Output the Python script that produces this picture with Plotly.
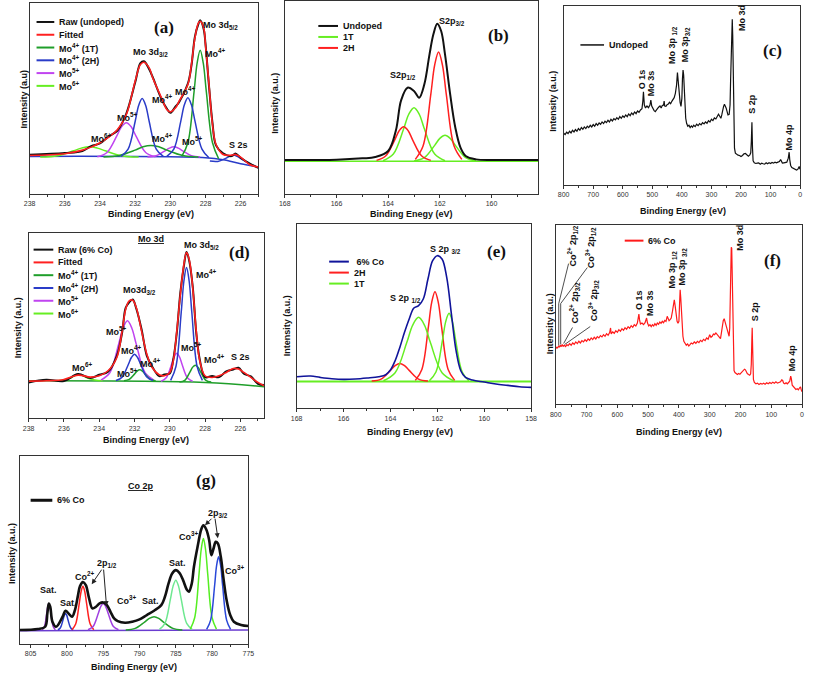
import plotly.graph_objects as go

W, H = 813, 674
SANS = "Liberation Sans, Arial, sans-serif"
SERIF = "Liberation Serif, Times New Roman, serif"

# ---------------- (a) undoped Mo 3d ----------------
A_BE = [238, 236, 235, 234.5, 234, 233.5, 233, 232.5, 232, 231.7, 231.5, 231.2, 231, 230.5, 230.2, 230, 229.7,
        229.5, 229, 228.8, 228.6, 228.4, 228.3, 228.1, 228, 227.8, 227.6, 227.4, 227, 226.5, 226.3, 226, 225.5, 225]
A_FIT = [115, 120, 131, 140, 153, 170, 193, 238, 338, 388, 395, 378, 348, 288, 253, 246, 258,
         278, 328, 388, 468, 513, 518, 498, 448, 328, 208, 148, 118, 116, 118, 110, 88, 80]
A_RAW = [117, 122, 128, 143, 151, 172, 190, 241, 334, 392, 398, 374, 350, 284, 256, 243, 262,
         275, 331, 384, 472, 510, 521, 494, 451, 324, 212, 145, 121, 113, 121, 108, 91, 78]
A_BASE_BE = [238, 228, 227, 226, 225]
A_BASE = [112, 108, 102, 90, 80]
A_MO6_BE = [237.4, 236.4, 235.5, 235.05, 234.6, 234.15, 233.7, 232.8, 231.8]
A_MO6 = [110, 114, 129, 137, 141, 137, 129, 114, 110]
A_MO5A_BE = [234.15, 233.6, 233.05, 232.775, 232.5, 232.225, 231.95, 231.4, 230.85]
A_MO5A = [111, 124, 173, 201, 213, 201, 173, 124, 111]
A_MO5B_BE = [231.3, 230.8, 230.3, 230.05, 229.8, 229.55, 229.3, 228.8, 228.3]
A_MO5B = [110, 114, 129, 137, 141, 137, 129, 114, 110]
A_2HA_BE = [232.8, 232.4, 232.0, 231.8, 231.6, 231.4, 231.2, 230.8, 230.4]
A_2HA = [112, 134, 217, 265, 286, 265, 217, 134, 112]
A_2HB_BE = [230.2, 229.8, 229.4, 229.2, 229.0, 228.8, 228.6, 228.2, 227.8]
A_2HB = [112, 134, 219, 267, 288, 267, 219, 134, 108]
A_1TA_BE = [233.8, 232.9, 232.0, 231.55, 231.1, 230.65, 230.2, 229.3, 228.4]
A_1TA = [110, 115, 131, 141, 145, 141, 131, 115, 110]
A_1TB_BE = [229.35, 229.0, 228.65, 228.475, 228.3, 228.125, 227.95, 227.6, 227.25]
A_1TB = [112, 153, 306, 392, 431, 392, 306, 153, 105]
A_S2S_BE = [227.75, 227.3, 226.85, 226.6, 226.4, 226.2, 225.95, 225.5, 225.05]
A_S2S = [98, 97, 106, 113, 116, 112, 104, 90, 80]

# ---------------- (b) undoped S 2p ----------------
B_BE = [168, 166, 165, 164.5, 164.0, 163.7, 163.5, 163.25, 163.0, 162.8, 162.6, 162.4, 162.25, 162.1,
        161.95, 161.8, 161.6, 161.4, 161.2, 161.0, 160.6, 160.0, 159.3, 158.7, 158.2]
B_UNDOPED = [101, 102, 106, 110, 128, 190, 280, 318, 308, 288, 328, 418, 478, 510,
             488, 418, 298, 198, 138, 113, 103, 101, 101, 101, 101]
B_BASE_BE = [168, 158.2]
B_BASE = [97, 97]
B_1TA_BE = [164.2, 163.8, 163.4, 163.2, 163.0, 162.8, 162.6, 162.2, 161.8]
B_1TA = [99, 119, 195, 239, 258, 239, 195, 119, 99]
B_1TB_BE = [163.0, 162.6, 162.2, 162.0, 161.8, 161.6, 161.4, 161.0, 160.6]
B_1TB = [98, 108, 145, 166, 175, 166, 145, 108, 98]
B_2HA_BE = [162.95, 162.65, 162.35, 162.2, 162.05, 161.9, 161.75, 161.45, 161.15]
B_2HA = [103, 143, 298, 386, 425, 386, 298, 143, 103]
B_2HB_BE = [164.45, 164.1, 163.75, 163.575, 163.4, 163.225, 163.05, 162.7, 162.35]
B_2HB = [100, 113, 161, 189, 201, 189, 161, 113, 100]

# ---------------- (c) undoped survey ----------------
C_BE = [800, 795, 790, 785, 780, 775, 770, 765, 760, 755,
        750, 745, 740, 735, 730, 725, 720, 715, 710, 705,
        700, 695, 690, 685, 680, 675, 670, 665, 660, 655,
        650, 645, 640, 635, 630, 625, 620, 615, 610, 605,
        600, 595, 590, 585, 580, 575, 570, 565, 560, 555,
        550, 545, 540, 535, 532, 530, 527, 523, 518, 513,
        508, 505, 502, 498, 494, 490, 486, 482, 478, 474,
        470, 466, 462, 460, 458, 454, 450, 446, 442, 438,
        434, 430, 426, 422, 418, 415, 412, 409, 406, 403,
        400, 398, 396, 394, 392, 390, 387, 384, 380, 376,
        372, 368, 364, 360, 355, 350, 345, 340, 335, 330,
        325, 320, 315, 310, 305, 300, 295, 290, 285, 280,
        276, 272, 268, 265, 262, 259, 256, 253, 250, 247,
        244, 240, 237, 235, 233, 231, 229.5, 228, 226, 224,
        222, 219, 215, 210, 205, 200, 195, 190, 185, 180,
        175, 170, 167, 165, 163, 161, 159, 155, 150, 145,
        140, 135, 130, 125, 120, 115, 110, 105, 100, 95,
        90, 85, 80, 75, 70, 66, 63, 60, 55, 50,
        45, 40, 37, 35, 32, 28, 24, 20, 16, 12,
        8, 5, 3, 1, 0]
C_UNDOPED = [155, 151, 158, 154, 161, 156, 164, 159, 166, 161,
             169, 164, 172, 167, 174, 169, 176, 172, 179, 174,
             181, 176, 184, 179, 186, 182, 189, 184, 191, 187,
             194, 189, 197, 192, 199, 195, 202, 197, 205, 200,
             207, 203, 210, 205, 213, 208, 216, 211, 219, 214,
             222, 218, 225, 229, 252, 280, 240, 231, 237, 232,
             240, 255, 237, 228, 223, 220, 227, 230, 234, 237,
             231, 239, 240, 252, 237, 236, 241, 243, 248, 244,
             251, 255, 262, 275, 300, 338, 310, 262, 248, 236,
             260, 320, 345, 330, 280, 230, 200, 185, 176, 179,
             172, 177, 173, 179, 175, 182, 178, 184, 180, 187,
             183, 189, 185, 193, 189, 197, 193, 201, 198, 206,
             212, 206, 200, 210, 225, 235, 242, 238, 230, 220,
             210, 212, 240, 320, 420, 470, 498, 450, 330, 190,
             110, 95, 92, 89, 88, 85, 88, 93, 94, 89,
             86, 90, 96, 130, 188, 110, 72, 66, 64, 65,
             66, 62, 65, 63, 62, 66, 63, 66, 64, 67,
             65, 68, 66, 68, 70, 76, 70, 65, 66, 67,
             68, 80, 98, 75, 58, 52, 50, 48, 45, 44,
             46, 50, 55, 48, 47]

# ---------------- (d) 6% Co Mo 3d ----------------
D_BE = [238, 237, 236, 235.2, 234.5, 234, 233.5, 233, 232.7, 232.5,
        232.3, 232.1, 231.9, 231.6, 231.3, 231, 230.6, 230.3, 230, 229.8,
        229.6, 229.4, 229.2, 229.05, 228.9, 228.7, 228.5, 228.3, 228, 227.6,
        227.2, 226.8, 226.4, 226.1, 225.8, 225.4, 225, 224.65]
D_FIT = [112, 113, 117, 130, 124, 128, 143, 183, 263, 328,
         353, 355, 333, 263, 193, 153, 131, 128, 138, 173,
         263, 373, 463, 498, 478, 393, 263, 173, 128, 123,
         128, 138, 150, 148, 138, 123, 108, 98]
D_RAW = [108, 116, 112, 133, 121, 131, 140, 188, 258, 332,
         349, 357, 330, 268, 188, 156, 127, 132, 135, 177,
         258, 378, 458, 500, 474, 397, 258, 177, 124, 127,
         124, 141, 147, 152, 134, 126, 104, 100]
D_BASE_BE = [238, 228, 224.65]
D_BASE = [113, 108, 95]
D_MO6_BE = [236.5, 236.05, 235.6, 235.375, 235.15, 234.925, 234.7, 234.25, 233.8]
D_MO6 = [113, 115, 122, 129, 131, 129, 122, 115, 113]
D_MO5A_BE = [233.9, 233.4, 232.9, 232.65, 232.4, 232.15, 231.9, 231.4, 230.9]
D_MO5A = [115, 137, 223, 271, 293, 271, 223, 137, 115]
D_MO5B_BE = [230.5, 230.2, 229.9, 229.75, 229.6, 229.45, 229.3, 229.0, 228.7]
D_MO5B = [111, 122, 162, 185, 196, 185, 162, 122, 111]
D_2HA_BE = [233.05, 232.7, 232.35, 232.175, 232.0, 231.825, 231.65, 231.3, 230.95]
D_2HA = [114, 124, 162, 183, 193, 183, 162, 124, 114]
D_2HB_BE = [229.95, 229.65, 229.35, 229.2, 229.05, 228.9, 228.75, 228.45, 228.15]
D_2HB = [114, 156, 319, 412, 453, 412, 319, 156, 114]
D_1TA_BE = [232.6, 232.3, 232.0, 231.85, 231.7, 231.55, 231.4, 231.1, 230.8]
D_1TA = [113, 117, 133, 142, 146, 142, 133, 117, 113]
D_1TB_BE = [229.45, 229.15, 228.85, 228.7, 228.55, 228.4, 228.25, 227.95, 227.65]
D_1TB = [109, 114, 140, 154, 160, 154, 140, 114, 109]

# ---------------- (e) 6% Co S 2p ----------------
E_BE = [168, 167.4, 167, 166.5, 166, 165.5, 165, 164.5, 164.2, 164.0,
        163.8, 163.6, 163.4, 163.2, 163.0, 162.8, 162.6, 162.4, 162.2, 162.0,
        161.8, 161.6, 161.4, 161.2, 161.0, 160.8, 160.5, 160.0, 159.5, 159.0,
        158.5, 158]
E_CO = [95, 97, 93, 89, 87, 88, 91, 95, 101, 115,
        143, 183, 228, 268, 301, 308, 328, 388, 443, 458,
        448, 393, 283, 173, 113, 93, 85, 79, 73, 69,
        65, 63]
E_BASE_BE = [168, 158]
E_BASE = [81, 81]
E_2HA_BE = [162.94, 162.66, 162.38, 162.24, 162.1, 161.96, 161.82, 161.54, 161.26]
E_2HA = [84, 117, 245, 318, 350, 318, 245, 117, 84]
E_2HB_BE = [164.8, 164.4, 164.0, 163.8, 163.6, 163.4, 163.2, 162.8, 162.4]
E_2HB = [82, 88, 114, 128, 135, 128, 114, 88, 82]
E_1TA_BE = [164.3, 163.8, 163.3, 163.05, 162.8, 162.55, 162.3, 161.8, 161.3]
E_1TA = [83, 107, 198, 250, 273, 250, 198, 107, 83]
E_1TB_BE = [162.34, 162.06, 161.78, 161.64, 161.5, 161.36, 161.22, 160.94, 160.66]
E_1TB = [83, 109, 205, 261, 285, 261, 205, 109, 83]

# ---------------- (f) 6% Co survey ----------------
F_BE = [800, 797, 794, 791, 788, 785, 782, 779, 776, 772,
        768, 764, 760, 755, 750, 745, 740, 735, 730, 725,
        720, 715, 710, 705, 700, 695, 690, 685, 680, 675,
        670, 665, 660, 655, 650, 645, 640, 635, 630, 625,
        622, 620, 615, 610, 605, 600, 595, 590, 585, 580,
        575, 570, 565, 560, 555, 550, 545, 540, 535, 532,
        530, 528, 525, 520, 515, 510, 507, 505, 502, 498,
        494, 490, 486, 482, 478, 474, 470, 466, 462, 458,
        454, 450, 446, 442, 438, 435, 432, 428, 425, 421,
        418, 415, 412, 409, 406, 403, 400, 398, 396, 394,
        392, 390, 387, 384, 380, 376, 372, 368, 364, 360,
        355, 350, 345, 340, 335, 330, 325, 320, 315, 310,
        305, 300, 296, 292, 288, 284, 280, 276, 272, 268,
        265, 262, 259, 256, 253, 250, 247, 244, 240, 237,
        235, 233, 231.5, 230, 228.5, 227, 225, 223, 221, 218,
        214, 210, 206, 202, 198, 194, 190, 187, 184, 181,
        178, 174, 170, 167, 165, 163, 162, 160, 158, 155,
        150, 145, 140, 135, 130, 125, 120, 115, 110, 105,
        100, 95, 90, 85, 80, 75, 70, 66, 63, 60,
        56, 52, 48, 44, 40, 37, 35, 32, 28, 24,
        20, 16, 12, 8, 5, 3, 1, 0]
F_CO = [168, 172, 170, 176, 172, 178, 174, 180, 175, 178,
        174, 180, 177, 183, 178, 185, 181, 188, 183, 190,
        185, 192, 188, 195, 190, 197, 193, 200, 195, 202,
        197, 204, 200, 207, 203, 210, 205, 213, 208, 216,
        230, 212, 218, 214, 222, 217, 225, 220, 228, 223,
        231, 226, 234, 229, 237, 232, 240, 236, 245, 262,
        272, 255, 242, 245, 240, 246, 255, 260, 245, 236,
        240, 234, 240, 236, 243, 238, 245, 241, 248, 244,
        250, 246, 253, 250, 265, 258, 252, 256, 260, 280,
        300, 315, 295, 262, 250, 244, 250, 300, 345, 320,
        270, 232, 205, 190, 182, 178, 182, 176, 180, 185,
        182, 188, 184, 190, 186, 193, 189, 196, 192, 200,
        196, 210, 202, 205, 212, 210, 215, 210, 205, 200,
        198, 215, 240, 252, 258, 248, 240, 222, 212, 205,
        230, 360, 470, 473, 470, 400, 250, 140, 102, 96,
        92, 90, 93, 91, 95, 98, 102, 106, 104, 96,
        93, 90, 88, 92, 120, 200, 231, 150, 75, 66,
        62, 64, 60, 63, 61, 64, 61, 65, 62, 66,
        63, 67, 64, 68, 64, 66, 68, 74, 72, 64,
        62, 65, 62, 66, 70, 85, 78, 58, 54, 50,
        45, 47, 44, 50, 53, 45, 40, 38]

# ---------------- (g) 6% Co Co 2p ----------------
G_BE = [806.5, 804, 803, 802.7, 802.5, 802.3, 802, 801.5, 800.6, 800.2,
        799.7, 799.3, 798.9, 798.5, 798.2, 797.8, 797.4, 797, 796.5, 796,
        795.5, 795, 794.5, 794, 793.5, 793, 792, 791, 790, 789,
        788, 787, 786.5, 786, 785.5, 785, 784.5, 784, 783.5, 783.2,
        782.8, 782.5, 782, 781.5, 781.2, 780.8, 780.4, 780.1, 779.8, 779.5,
        779.2, 778.8, 778.4, 778, 777.5, 777, 776, 775]
G_CO = [42, 45, 52, 92, 122, 112, 67, 52, 82, 100,
        90, 82, 102, 144, 174, 186, 177, 142, 107, 112,
        122, 125, 117, 97, 77, 69, 64, 67, 74, 87,
        100, 117, 142, 182, 212, 222, 214, 192, 164, 157,
        182, 232, 292, 344, 357, 344, 312, 267, 287, 307,
        302, 262, 192, 132, 87, 67, 57, 54]
G_BASE_BE = [806.5, 775]
G_BASE = [40, 42]
G_SAT1_BE = [803.4, 803.1, 802.8, 802.65, 802.5, 802.35, 802.2, 801.9, 801.6]
G_SAT1 = [43, 53, 91, 112, 122, 112, 91, 53, 43]
G_SAT2_BE = [801.25, 800.9, 800.55, 800.375, 800.2, 800.025, 799.85, 799.5, 799.15]
G_SAT2 = [43, 49, 72, 86, 92, 86, 72, 49, 43]
G_CO2_BE = [799.3, 798.8, 798.3, 798.05, 797.8, 797.55, 797.3, 796.8, 796.3]
G_CO2 = [43, 60, 123, 158, 174, 158, 123, 60, 43]
G_P12_BE = [797.1, 796.4, 795.7, 795.35, 795, 794.65, 794.3, 793.6, 792.9]
G_P12 = [43, 53, 91, 112, 122, 112, 91, 53, 43]
G_SAT3_BE = [791.9, 790.6, 789.3, 788.65, 788, 787.35, 786.7, 785.4, 784.1]
G_SAT3 = [42, 47, 66, 77, 82, 77, 66, 47, 42]
G_SAT4_BE = [787.25, 786.5, 785.75, 785.375, 785, 784.625, 784.25, 783.5, 782.75]
G_SAT4 = [44, 62, 134, 174, 192, 174, 134, 62, 44]
G_CO3A_BE = [783, 782.4, 781.8, 781.5, 781.2, 780.9, 780.6, 780.0, 779.4]
G_CO3A = [45, 79, 210, 284, 317, 284, 210, 79, 45]
G_CO3B_BE = [780.75, 780.2, 779.65, 779.375, 779.1, 778.825, 778.55, 778.0, 777.45]
G_CO3B = [44, 72, 176, 236, 262, 236, 176, 72, 44]

# colours
BLACK = "#111111"
RED = "#ff2020"
DKGREEN = "#1f9e2a"
BLUE = "#2a3cc8"
VIOLET = "#c044f0"
LTGREEN = "#66ee22"
NAVY = "#10149a"


def px(x):
    return x / W


def py(y):
    return 1 - y / H


# panel boxes in pixels: left, top, right, bottom; then x range, y range, tick step, minor step
panels = [
    ("a", (24, 2, 256, 193), [238, 225], [0, 573], 2, 1),
    ("b", (283, 0, 540, 193), [168, 158.2], [0, 578], 2, 1),
    ("c", (566, 5, 806, 184), [800, 0], [0, 538], 100, 50),
    ("d", (23, 232, 262, 418), [238, 224.65], [0, 558], 2, 1),
    ("e", (295, 223, 533, 408), [168, 158], [0, 554], 2, 1),
    ("f", (558, 224, 808, 404), [800, 0], [0, 541], 100, 50),
    ("g", (14, 456, 246, 644), [806.5, 775], [0, 564], 5, 2.5),
]
axid = {}
layout = dict(width=W, height=H, margin=dict(l=0, r=0, t=0, b=0), showlegend=False,
              paper_bgcolor="white", plot_bgcolor="white")
for i, (name, (l, t, r, b), xr, yr, step, minor) in enumerate(panels):
    n = "" if i == 0 else str(i + 1)
    axid[name] = ("x" + n, "y" + n)
    layout["xaxis" + n] = dict(domain=[px(l), px(r)], range=xr, anchor="y" + n,
                               tickmode="linear", tick0=0, dtick=step,
                               ticks="outside", ticklen=3, tickwidth=1, tickcolor="#333",
                               minor=dict(ticks="outside", ticklen=2, dtick=minor, tick0=0,
                                          tickcolor="#333"),
                               showline=True, linecolor="#333", linewidth=1, mirror=True,
                               showgrid=False, zeroline=False,
                               tickfont=dict(family=SANS, size=7, color="#333"))
    layout["yaxis" + n] = dict(domain=[py(b), py(t)], range=yr, anchor="x" + n,
                               showticklabels=False, ticks="", showline=True, linecolor="#333",
                               linewidth=1, mirror=True, showgrid=False, zeroline=False)

fig = go.Figure()


def line(p, x, y, color, width=1.5, spline=True):
    xa, ya = axid[p]
    fig.add_trace(go.Scatter(x=x, y=y, mode="lines", xaxis=xa, yaxis=ya, hoverinfo="skip",
                             line=dict(color=color, width=width,
                                       shape="spline" if spline else "linear")))


# (a)
line("a", A_BASE_BE, A_BASE, BLUE, 1.5)
line("a", A_MO6_BE, A_MO6, LTGREEN)
line("a", A_MO5A_BE, A_MO5A, VIOLET)
line("a", A_MO5B_BE, A_MO5B, VIOLET)
line("a", A_1TA_BE, A_1TA, DKGREEN)
line("a", A_1TB_BE, A_1TB, DKGREEN)
line("a", A_2HA_BE, A_2HA, BLUE)
line("a", A_2HB_BE, A_2HB, BLUE)
line("a", A_S2S_BE, A_S2S, BLUE)
line("a", A_BE, A_RAW, BLACK, 2)
line("a", A_BE, A_FIT, RED, 1.6)
# (b)
line("b", B_BASE_BE, B_BASE, LTGREEN)
line("b", B_1TA_BE, B_1TA, LTGREEN)
line("b", B_1TB_BE, B_1TB, LTGREEN)
line("b", B_2HA_BE, B_2HA, RED)
line("b", B_2HB_BE, B_2HB, RED)
line("b", B_BE, B_UNDOPED, BLACK, 2)
# (c)
line("c", C_BE, C_UNDOPED, BLACK, 1.2, spline=False)
# (d)
line("d", D_BASE_BE, D_BASE, DKGREEN)
line("d", D_MO6_BE, D_MO6, LTGREEN)
line("d", D_MO5A_BE, D_MO5A, VIOLET)
line("d", D_MO5B_BE, D_MO5B, VIOLET)
line("d", D_1TA_BE, D_1TA, DKGREEN)
line("d", D_1TB_BE, D_1TB, DKGREEN)
line("d", D_2HA_BE, D_2HA, BLUE)
line("d", D_2HB_BE, D_2HB, BLUE)
line("d", D_BE, D_RAW, BLACK, 2)
line("d", D_BE, D_FIT, RED, 1.6)
# (e)
line("e", E_BASE_BE, E_BASE, LTGREEN, 2)
line("e", E_2HA_BE, E_2HA, RED)
line("e", E_2HB_BE, E_2HB, RED)
line("e", E_1TA_BE, E_1TA, LTGREEN)
line("e", E_1TB_BE, E_1TB, LTGREEN)
line("e", E_BE, E_CO, NAVY, 1.6)
# (f)
line("f", F_BE, F_CO, "#ff1a1a", 1.2, spline=False)
# (g)
line("g", G_BASE_BE, G_BASE, "#6a3cd0", 1.5)
line("g", G_SAT1_BE, G_SAT1, "#9a33cc")
line("g", G_SAT2_BE, G_SAT2, BLUE)
line("g", G_CO2_BE, G_CO2, RED)
line("g", G_P12_BE, G_P12, "#a040e0")
line("g", G_SAT3_BE, G_SAT3, "#23a02a")
line("g", G_SAT4_BE, G_SAT4, "#6ee890")
line("g", G_CO3A_BE, G_CO3A, "#55ee22")
line("g", G_CO3B_BE, G_CO3B, "#2a48d8")
line("g", G_BE, G_CO, BLACK, 2.6)

ann = []
shapes = []


def text(x, y, s, size=9, angle=0, xa="center", ya="middle", family=SANS, bold=True):
    ann.append(dict(xref="paper", yref="paper", x=px(x), y=py(y), showarrow=False,
                    text="<b>%s</b>" % s if bold else s, textangle=angle,
                    xanchor=xa, yanchor=ya, font=dict(family=family, size=size, color="#111")))


def legend(items, x0, y0, dy, length=20, size=9):
    for k, (name, color, width) in enumerate(items):
        yy = y0 + k * dy
        shapes.append(dict(type="line", xref="paper", yref="paper", x0=px(x0), x1=px(x0 + length),
                           y0=py(yy), y1=py(yy), line=dict(color=color, width=width)))
        text(x0 + length + 3, yy, name, size=size, xa="left")


def seg(x0, y0, x1, y1):
    shapes.append(dict(type="line", xref="paper", yref="paper", x0=px(x0), y0=py(y0),
                       x1=px(x1), y1=py(y1), line=dict(color="#222", width=0.8)))


def arrow(hx, hy, tx, ty):
    ann.append(dict(xref="paper", yref="paper", x=px(hx), y=py(hy), ax=tx - hx, ay=ty - hy,
                    text="", showarrow=True, arrowhead=2, arrowsize=1, arrowwidth=1,
                    arrowcolor="#222"))


# axis titles
for (x, y) in [(147, 213), (687, 210), (142, 440), (410, 432), (683, 432), (130, 667)]:
    text(x, y, "Binding Energy (eV)", size=9)
text(412, 213, "Binding Enegy (eV)", size=9)
text(18, 98, "Intensity (a.u)", size=9, angle=-90)
for (x, y) in [(273, 102), (555, 100), (12, 327), (285, 325), (552, 323), (6, 553)]:
    text(x, y, "Intensity (a.u.)", size=9, angle=-90)

# panel letters
for (x, y, s) in [(160, 27, "(a)"), (500, 35, "(b)"), (778, 50, "(c)"), (237, 252, "(d)"),
                  (498, 251, "(e)"), (778, 260, "(f)"), (203, 480, "(g)")]:
    text(x, y, s, size=17, family=SERIF)

# (a)
legend([("Raw (undoped)", BLACK, 2), ("Fitted", RED, 2), ("Mo<sup>4+</sup> (1T)", DKGREEN, 2),
        ("Mo<sup>4+</sup> (2H)", BLUE, 2), ("Mo<sup>5+</sup>", VIOLET, 2), ("Mo<sup>6+</sup>", LTGREEN, 2)],
       31, 21, 12.8, length=18)
for (x, y, s) in [(218, 25, "Mo 3d<sub>5/2</sub>"), (213, 52, "Mo<sup>4+</sup>"),
                  (147, 52, "Mo 3d<sub>3/2</sub>"), (159, 98, "Mo<sup>4+</sup>"),
                  (123, 116, "Mo<sup>5+</sup>"), (182, 90, "Mo<sup>4+</sup>"),
                  (97, 137, "Mo<sup>6+</sup>"), (159, 137, "Mo<sup>4+</sup>"),
                  (189, 140, "Mo<sup>5+</sup>"), (236, 144, "S 2s")]:
    text(x, y, s)
# (b)
legend([("Undoped", BLACK, 2), ("1T", LTGREEN, 2), ("2H", RED, 2)], 317, 25, 11)
text(453, 21, "S2p<sub>3/2</sub>")
text(403, 75, "S2p<sub>1/2</sub>")
# (c)
legend([("Undoped", BLACK, 1.5)], 583, 44, 0, length=24)
for (x, y, s) in [(645, 90, "O 1s"), (655, 97, "Mo 3s"), (677, 65, "Mo 3p <sub>1/2</sub>"),
                  (690, 63, "Mo 3p<sub>3/2</sub>"), (747, 32, "Mo 3d"), (757, 115, "S 2p"),
                  (795, 152, "Mo 4p")]:
    text(x, y, s, angle=-90, ya="bottom")
# (d)
legend([("Raw (6% Co)", BLACK, 2), ("Fitted", RED, 2), ("Mo<sup>4+</sup> (1T)", DKGREEN, 2),
        ("Mo<sup>4+</sup> (2H)", BLUE, 2), ("Mo<sup>5+</sup>", VIOLET, 2), ("Mo<sup>6+</sup>", LTGREEN, 2)],
       28, 249, 12.8)
text(147, 238, "<u>Mo 3d</u>")
for (x, y, s) in [(198, 245, "Mo 3d<sub>5/2</sub>"), (203, 273, "Mo<sup>4+</sup>"),
                  (135, 290, "Mo3d<sub>3/2</sub>"), (112, 330, "Mo<sup>5+</sup>"),
                  (127, 350, "Mo<sup>4+</sup>"), (147, 363, "Mo<sup>4+</sup>"),
                  (123, 373, "Mo<sup>5+</sup>"), (78, 367, "Mo<sup>6+</sup>"),
                  (188, 347, "Mo<sup>5+</sup>"), (212, 359, "Mo<sup>4+</sup>"), (238, 357, "S 2s")]:
    text(x, y, s)
# (e)
legend([(" 6% Co", NAVY, 2), ("2H", RED, 2), ("1T", LTGREEN, 2)], 328, 261, 11)
text(446, 249, "S 2p <sub>3/2</sub>")
text(405, 298, "S 2p <sub>1/2</sub>")
# (f)
legend([("6% Co", "#ff1a1a", 2)], 628, 240, 0, length=19)
for (x, y, s) in [(642, 312, "O 1s"), (653, 317, "Mo 3s"), (677, 290, "Mo 3p <sub>1/2</sub>"),
                  (687, 287, "Mo 3p <sub>3/2</sub>"), (745, 252, "Mo 3d"), (760, 323, "S 2p"),
                  (798, 373, "Mo 4p"), (575, 268, "Co<sup>2+</sup> 2p<sub>1/2</sub>"),
                  (593, 270, "Co<sup>3+</sup> 2p<sub>1/2</sub>"), (577, 325, "Co<sup>2+</sup> 2p<sub>3/2</sub>"),
                  (596, 323, "Co<sup>3+</sup> 2p<sub>3/2</sub>")]:
    text(x, y, s, angle=-90, ya="bottom")
seg(571, 263, 561, 303)
seg(561, 303, 561, 345)
seg(590, 267, 563, 303)
seg(563, 303, 563, 344)
seg(575, 327, 566, 343)
seg(593, 326, 567, 344)
# (g)
legend([("6% Co", BLACK, 3)], 25, 500, 0, length=22)
text(137, 486, "<u>Co 2p</u>")
for (x, y, s) in [(43, 590, "Sat."), (63, 603, "Sat."), (80, 576, "Co<sup>2+</sup>"),
                  (103, 563, "2p<sub>1/2</sub>"), (123, 600, "Co<sup>3+</sup>"), (147, 601, "Sat."),
                  (174, 563, "Sat."), (186, 536, "Co<sup>3+</sup>"), (215, 513, "2p<sub>3/2</sub>"),
                  (232, 570, "Co<sup>3+</sup>")]:
    text(x, y, s)
arrow(87, 584, 98, 568)
arrow(102, 606, 99, 568)
arrow(202, 525, 210, 517)
arrow(215, 538, 212, 517)

layout["annotations"] = ann
layout["shapes"] = shapes
fig.update_layout(**layout)
fig.write_html("out.html", config={"displayModeBar": False},
               post_script="document.body.style.margin='0';")
